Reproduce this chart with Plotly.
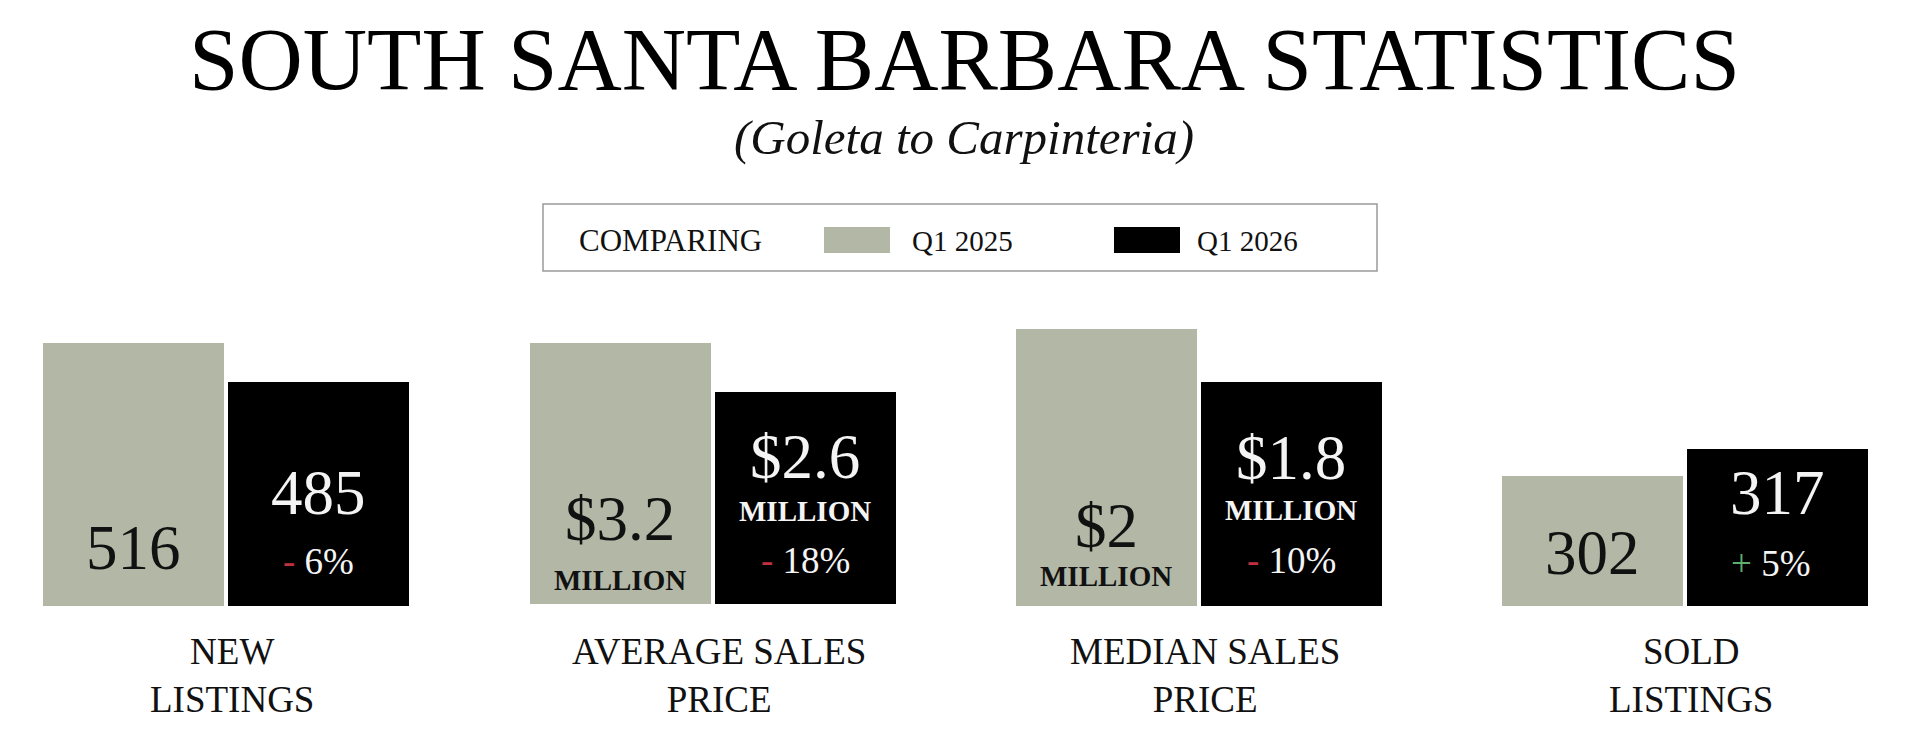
import plotly.graph_objects as go

# ---------------- data ----------------
categories = ["NEW<br>LISTINGS", "AVERAGE SALES<br>PRICE", "MEDIAN SALES<br>PRICE", "SOLD<br>LISTINGS"]
series_names = ["Q1 2025", "Q1 2026"]
q1_2025 = [516, 3.2, 2.0, 302]
q1_2026 = [485, 2.6, 1.8, 317]
labels_2025 = ["516", "$3.2", "$2", "302"]
labels_2026 = ["485", "$2.6", "$1.8", "317"]
units = ["", "MILLION", "MILLION", ""]
change_sign = ["-", "-", "-", "+"]
change_pct = ["6%", "18%", "10%", "5%"]

# ---------------- styling / layout ----------------
W, H = 1928, 732
FONT = "Liberation Serif"
GRAY = "#b2b8a5"
BLACK = "#000000"
RED = "#c0303f"
GREEN = "#5fae6a"


def px(x):
    return x / W


def py(y):
    return 1 - y / H


group_centers = [226, 712.5, 1198.5, 1685]
half = 185
y_dom = [py(606), py(320)]
y_ranges = [[306.95, 534.3], [-0.02, 3.482], [0.955, 2.034], [229.8, 388.7]]

fig = go.Figure()
layout = dict(
    width=W, height=H, margin=dict(l=0, r=0, t=0, b=0),
    paper_bgcolor="white", plot_bgcolor="white", showlegend=False,
    bargap=0, font=dict(family=FONT, color="black"),
)

annotations = []
for i in range(4):
    sfx = "" if i == 0 else str(i + 1)
    xa, ya = "x" + sfx, "y" + sfx
    fig.add_trace(go.Bar(x=[0], y=[q1_2025[i]], width=[0.978], marker=dict(color=GRAY, line=dict(width=0)),
                         name=series_names[0], legendgroup="a", xaxis=xa, yaxis=ya, hoverinfo="name+y"))
    fig.add_trace(go.Bar(x=[1], y=[q1_2026[i]], width=[0.978], marker=dict(color=BLACK, line=dict(width=0)),
                         name=series_names[1], legendgroup="b", xaxis=xa, yaxis=ya, hoverinfo="name+y"))
    c = group_centers[i]
    layout["xaxis" + sfx] = dict(domain=[px(c - half), px(c + half)], range=[-0.5, 1.5], visible=False,
                                 fixedrange=True, anchor=ya)
    layout["yaxis" + sfx] = dict(domain=y_dom, range=y_ranges[i], visible=False, fixedrange=True,
                                 anchor=xa)

    # category label below the group
    annotations.append(dict(xref="paper", yref="paper", x=px(c + 6), y=py(675), text=categories[i],
                            showarrow=False, xanchor="center", yanchor="middle",
                            font=dict(size=37, family=FONT, color="#111")))

# text inside bars (pixel centres)
gray_main_y = [548, 519, 526, 553]
gray_unit_y = [None, 580, 576, None]
black_main_y = [493, 457, 458, 493]
black_unit_y = [None, 511, 510, None]
black_chg_y = [561, 560, 560, 563]

for i in range(4):
    sfx = "" if i == 0 else str(i + 1)
    xa = "x" + sfx
    annotations.append(dict(xref=xa, yref="paper", x=0, y=py(gray_main_y[i]), text=labels_2025[i],
                            showarrow=False, xanchor="center", yanchor="middle",
                            font=dict(size=63, family=FONT, color="#111")))
    if units[i]:
        annotations.append(dict(xref=xa, yref="paper", x=0, y=py(gray_unit_y[i]), text="<b>" + units[i] + "</b>",
                                showarrow=False, xanchor="center", yanchor="middle",
                                font=dict(size=29, family=FONT, color="#111")))
        annotations.append(dict(xref=xa, yref="paper", x=1, y=py(black_unit_y[i]), text="<b>" + units[i] + "</b>",
                                showarrow=False, xanchor="center", yanchor="middle",
                                font=dict(size=29, family=FONT, color="#f4f4f4")))
    annotations.append(dict(xref=xa, yref="paper", x=1, y=py(black_main_y[i]), text=labels_2026[i],
                            showarrow=False, xanchor="center", yanchor="middle",
                            font=dict(size=63, family=FONT, color="#f4f4f4")))
    sign_col = GREEN if change_sign[i] == "+" else RED
    annotations.append(dict(xref=xa, yref="paper", x=1, y=py(black_chg_y[i]),
                            text=f"<span style='color:{sign_col}'>{change_sign[i]}</span> {change_pct[i]}",
                            showarrow=False, xanchor="center", yanchor="middle",
                            xshift=-7 if change_sign[i] == "+" else 0,
                            font=dict(size=37, family=FONT, color="#f4f4f4")))

# title + subtitle
annotations.append(dict(xref="paper", yref="paper", x=0.5, y=py(59), text="SOUTH SANTA BARBARA STATISTICS",
                        showarrow=False, xanchor="center", yanchor="middle",
                        font=dict(size=89, family=FONT, color="black")))
annotations.append(dict(xref="paper", yref="paper", x=0.5, y=py(137), text="<i>(Goleta to Carpinteria)</i>",
                        showarrow=False, xanchor="center", yanchor="middle",
                        font=dict(size=49, family=FONT, color="#111")))

# legend box
shapes = [
    dict(type="rect", xref="paper", yref="paper", x0=px(543), x1=px(1377), y0=py(271), y1=py(204),
         line=dict(color="#9a9a9a", width=1.5), fillcolor="rgba(0,0,0,0)"),
    dict(type="rect", xref="paper", yref="paper", x0=px(824), x1=px(890), y0=py(253), y1=py(227),
         line=dict(width=0), fillcolor=GRAY),
    dict(type="rect", xref="paper", yref="paper", x0=px(1114), x1=px(1180), y0=py(253), y1=py(227),
         line=dict(width=0), fillcolor=BLACK),
]
annotations.append(dict(xref="paper", yref="paper", x=px(577), y=py(241), text="COMPARING",
                        showarrow=False, xanchor="left", yanchor="middle",
                        font=dict(size=31, family=FONT, color="#111")))
annotations.append(dict(xref="paper", yref="paper", x=px(910), y=py(241), text=series_names[0],
                        showarrow=False, xanchor="left", yanchor="middle",
                        font=dict(size=29, family=FONT, color="#111")))
annotations.append(dict(xref="paper", yref="paper", x=px(1195), y=py(241), text=series_names[1],
                        showarrow=False, xanchor="left", yanchor="middle",
                        font=dict(size=29, family=FONT, color="#111")))

layout["annotations"] = annotations
layout["shapes"] = shapes
fig.update_layout(**layout)
fig.write_html("out.html")
